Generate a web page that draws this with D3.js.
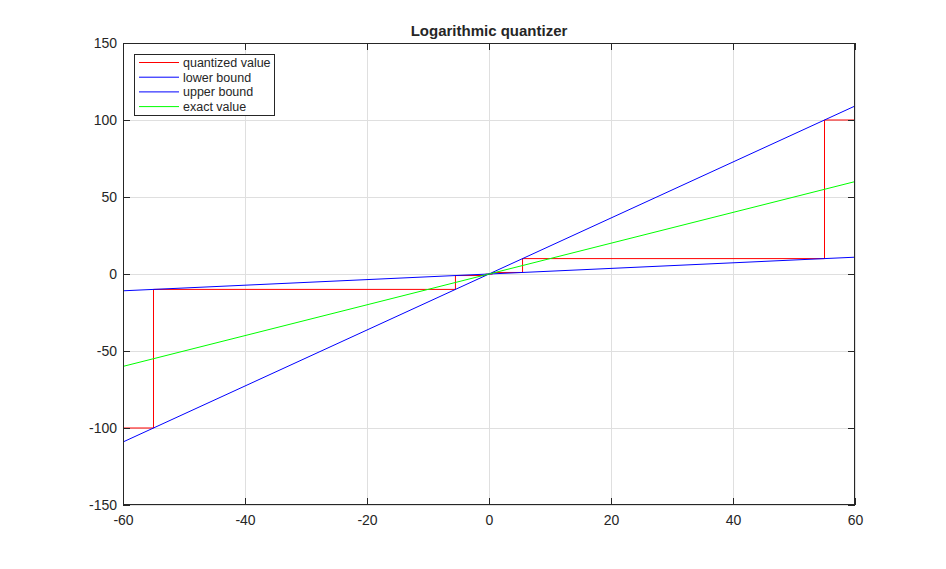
<!DOCTYPE html>
<html><head><meta charset="utf-8">
<script src="https://cdn.jsdelivr.net/npm/d3@7"></script>
<style>
body{margin:0;background:#fff;}
svg{display:block;font-family:"Liberation Sans",Arial,sans-serif;}
</style></head><body>
<svg id="c" width="946" height="569"></svg>
<script>
// data
const xTicks = [-60,-40,-20,0,20,40,60];
const yTicks = [-150,-100,-50,0,50,100,150];
const quantX = [-60,-55,-55,-5.5,-5.5,-0.55,-0.55,0.55,0.55,5.5,5.5,55,55,60];
const quantY = [-100,-100,-10,-10,-1,-1,-0.1,-0.1,1,1,10,10,100,100];
const boundX = [-60,60];
const lowerY = [-10.91,10.91];
const upperY = [-109.09,109.09];
const exactX = [-60,60];
const exactY = [-60,60];
const seriesNames = ["quantized value","lower bound","upper bound","exact value"];
const seriesColors = ["rgb(255,0,0)","rgb(0,0,255)","rgb(0,0,255)","rgb(0,255,0)"];

const svg = d3.select("#c");
const L=123,R=855,T=43,B=505;
const x = d3.scaleLinear().domain([-60,60]).range([L,R]);
const y = d3.scaleLinear().domain([-150,150]).range([B,T]);
const fmt = d => String(d);

// grid
const g = svg.append("g");
g.selectAll("line.gx").data(xTicks).enter().append("line").attr("class","gx")
 .attr("x1",d=>x(d)).attr("x2",d=>x(d)).attr("y1",T).attr("y2",B)
 .attr("stroke","#dfdfdf").attr("stroke-width",1).attr("shape-rendering","crispEdges");
g.selectAll("line.gy").data(yTicks).enter().append("line").attr("class","gy")
 .attr("x1",L).attr("x2",R).attr("y1",d=>y(d)).attr("y2",d=>y(d))
 .attr("stroke","#dfdfdf").attr("stroke-width",1).attr("shape-rendering","crispEdges");

// clip
svg.append("clipPath").attr("id","plotclip").append("rect").attr("x",L).attr("y",T).attr("width",R-L).attr("height",B-T);
const plot = svg.append("g").attr("clip-path","url(#plotclip)");
const line = d3.line().x(d=>x(d[0])).y(d=>y(d[1]));
const series = [
  d3.zip(quantX,quantY),
  d3.zip(boundX,lowerY),
  d3.zip(boundX,upperY),
  d3.zip(exactX,exactY)
];
series.forEach((s,i)=>{
  plot.append("path").attr("d",line(s)).attr("fill","none")
   .attr("stroke",seriesColors[i]).attr("stroke-width",1);
});

// axes
const tickLen = 7;
const axB = svg.append("g").attr("transform",`translate(0,${B})`)
  .call(d3.axisBottom(x).tickValues(xTicks).tickSize(-tickLen).tickPadding(10).tickFormat(fmt));
const axT = svg.append("g").attr("transform",`translate(0,${T})`)
  .call(d3.axisTop(x).tickValues(xTicks).tickSize(-tickLen).tickFormat(""));
const axL = svg.append("g").attr("transform",`translate(${L},0)`)
  .call(d3.axisLeft(y).tickValues(yTicks).tickSize(-tickLen).tickPadding(6).tickFormat(fmt));
const axR = svg.append("g").attr("transform",`translate(${R},0)`)
  .call(d3.axisRight(y).tickValues(yTicks).tickSize(-tickLen).tickFormat(""));
[axB,axT,axL,axR].forEach(a=>{
  a.select(".domain").remove();
  a.selectAll(".tick line").attr("stroke","#262626");
  a.selectAll("text").attr("fill","#262626").style("font-size","14px").style("font-family","'Liberation Sans',Arial,sans-serif");
});
svg.append("rect").attr("x",L+0.5).attr("y",T+0.5).attr("width",R-L-1).attr("height",B-T-1)
  .attr("fill","none").attr("stroke","#262626").attr("stroke-width",1);

// title
svg.append("text").attr("x",(L+R)/2).attr("y",36).attr("text-anchor","middle")
  .style("font-weight","bold").style("font-size","15px").attr("fill","#262626").text("Logarithmic quantizer");

// legend
const lg = svg.append("g");
lg.append("rect").attr("x",134.5).attr("y",54.5).attr("width",140).attr("height",61)
  .attr("fill","#fff").attr("stroke","#262626").attr("stroke-width",1);
seriesNames.forEach((n,i)=>{
  const yy = 62.5 + i*14.7;
  lg.append("line").attr("x1",139).attr("x2",179).attr("y1",yy).attr("y2",yy)
    .attr("stroke",seriesColors[i]).attr("stroke-width",1);
  lg.append("text").attr("x",183).attr("y",yy+4.5).style("font-size","12.5px").attr("fill","#262626").text(n);
});
</script>
</body></html>
